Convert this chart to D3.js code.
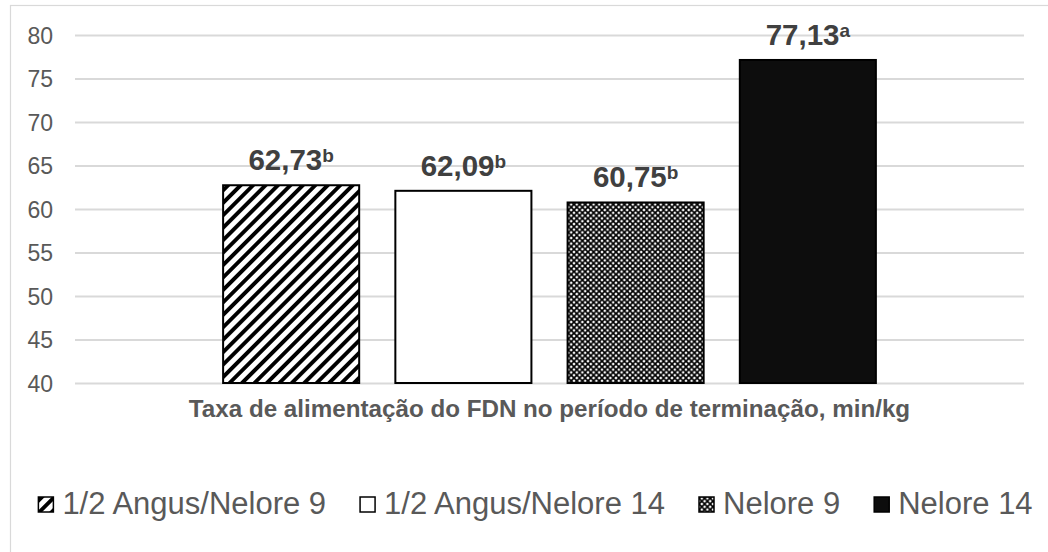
<!DOCTYPE html>
<html><head><meta charset="utf-8">
<script src="https://cdn.jsdelivr.net/npm/d3@7"></script>
<style>body{margin:0;background:#fff} svg{display:block}</style>
</head><body><svg id="chart" width="1048" height="552"></svg>
<script>
const series = ["1/2 Angus/Nelore 9", "1/2 Angus/Nelore 14", "Nelore 9", "Nelore 14"];
const values = [62.73, 62.09, 60.75, 77.13];
const letters = ["b", "b", "b", "a"];
const yTicks = [40, 45, 50, 55, 60, 65, 70, 75, 80];
const categoryLabel = "Taxa de alimentação do FDN no período de terminação, min/kg";
const fills = ["url(#pDiag)", "#ffffff", "url(#pDiamond)", "#0d0d0d"];

const svg = d3.select("#chart");
const plot = {left: 75, right: 1024, top: 35, bottom: 383};
const font = "'Liberation Sans', Arial, sans-serif";

// patterns
const defs = svg.append("defs");
const pd = defs.append("pattern").attr("id", "pDiag").attr("patternUnits", "userSpaceOnUse")
  .attr("width", 8.8).attr("height", 8.8).attr("patternTransform", "rotate(45)");
pd.append("rect").attr("width", 8.8).attr("height", 8.8).attr("fill", "#fff");
pd.append("rect").attr("width", 3.9).attr("height", 8.8).attr("fill", "#000");

const pm = defs.append("pattern").attr("id", "pDiamond").attr("patternUnits", "userSpaceOnUse")
  .attr("width", 5.6).attr("height", 5.6);
pm.append("rect").attr("width", 5.6).attr("height", 5.6).attr("fill", "#fff");
pm.append("path").attr("d", "M0,0L5.6,5.6M5.6,0L0,5.6")
  .attr("stroke", "#000").attr("stroke-width", 1.7).attr("fill", "none");

// chart border
svg.append("rect").attr("x", 10.5).attr("y", 5.5).attr("width", 1100).attr("height", 700)
  .attr("fill", "none").attr("stroke", "#d9d9d9").attr("stroke-width", 1.2);

const y = d3.scaleLinear().domain([40, 80]).range([plot.bottom, plot.top]);
const x = d3.scaleBand().domain(series).range([plot.left, plot.right])
  .paddingInner(0.21).paddingOuter(0.86);

// gridlines + tick labels
const yAxis = d3.axisLeft(y).tickValues(yTicks).tickSize(-(plot.right - plot.left)).tickPadding(22)
  .tickFormat(d3.format("d"));
const ga = svg.append("g").attr("transform", `translate(${plot.left},0)`).call(yAxis);
ga.select(".domain").remove();
ga.selectAll(".tick line").attr("stroke", "#d9d9d9").attr("stroke-width", 2);
ga.selectAll(".tick text").attr("fill", "#595959").style("font-family", font)
  .style("font-size", "23px").attr("dy", "0.36em");

// bars
svg.append("g").selectAll("rect").data(series).join("rect")
  .attr("x", d => x(d))
  .attr("y", (d, i) => y(values[i]))
  .attr("width", x.bandwidth())
  .attr("height", (d, i) => y(40) - y(values[i]))
  .attr("fill", (d, i) => fills[i])
  .attr("stroke", "#000").attr("stroke-width", 2);

// value labels
const fmt = v => d3.format(".2f")(v).replace(".", ",");
const lbl = svg.append("g").selectAll("text").data(series).join("text")
  .attr("x", d => x(d) + x.bandwidth() / 2)
  .attr("y", (d, i) => y(values[i]) - 15)
  .attr("text-anchor", "middle")
  .attr("fill", "#404040").style("font-family", font).style("font-weight", "bold")
  .style("font-size", "29.5px");
lbl.append("tspan").text((d, i) => fmt(values[i]));
lbl.append("tspan").text((d, i) => letters[i]).attr("dy", -8).style("font-size", "19px");

// category title
svg.append("text").attr("x", (plot.left + plot.right) / 2).attr("y", 417)
  .attr("text-anchor", "middle").attr("fill", "#595959")
  .style("font-family", font).style("font-weight", "bold").style("font-size", "24.2px")
  .text(categoryLabel);

// legend
const leg = svg.append("g");
const items = leg.selectAll("g").data(series).join("g");
items.append("rect").attr("width", 15).attr("height", 15).attr("y", 497)
  .attr("fill", (d, i) => fills[i]).attr("stroke", "#000").attr("stroke-width", 1.5);
items.append("text").text(d => d).attr("x", 24).attr("y", 514)
  .attr("fill", "#595959").style("font-family", font).style("font-size", "31px");
let widths = [];
items.each(function () { widths.push(this.querySelector("text").getComputedTextLength()); });
const gap = 34;
const total = d3.sum(widths) + widths.length * 24 + (widths.length - 1) * gap;
let cx = 535.5 - total / 2;
items.each(function (d, i) {
  d3.select(this).attr("transform", `translate(${cx},0)`);
  cx += 24 + widths[i] + gap;
});
</script></body></html>
